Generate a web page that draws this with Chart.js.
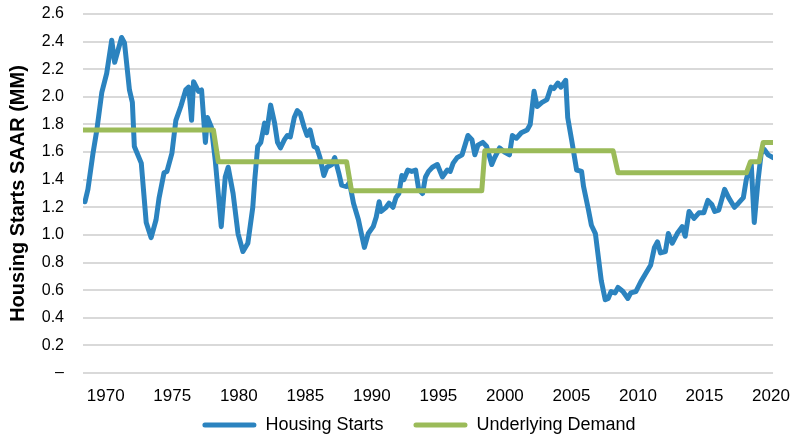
<!DOCTYPE html>
<html>
<head>
<meta charset="utf-8">
<script src="https://cdn.jsdelivr.net/npm/chart.js@4.4.1/dist/chart.umd.min.js"></script>
<style>
  html, body { margin: 0; padding: 0; background: #fff; }
  #wrap { width: 803px; height: 437px; }
</style>
</head>
<body>
<div id="wrap"><canvas id="chart" width="803" height="437"></canvas></div>
<script>
// Housing starts (millions, SAAR), vertices
const startYears = [
  1968.44, 1968.66, 1969.04, 1969.33, 1969.70, 1970.07, 1970.45, 1970.67, 1971.19, 1971.41,
  1971.78, 1972.00, 1972.15, 1972.67, 1973.04, 1973.41, 1973.78, 1974.01, 1974.38, 1974.60,
  1974.97, 1975.27, 1975.64, 1976.01, 1976.23, 1976.45, 1976.60, 1976.97, 1977.20, 1977.49,
  1977.64, 1977.94, 1978.23, 1978.68, 1978.98, 1979.20, 1979.57, 1979.94, 1980.31, 1980.68,
  1981.05, 1981.20,
  1981.42, 1981.65, 1981.94, 1982.09, 1982.39, 1982.69, 1982.91, 1983.13, 1983.43, 1983.65,
  1983.87, 1984.17, 1984.39, 1984.61, 1984.91, 1985.13, 1985.36, 1985.65, 1985.87, 1986.10,
  1986.39, 1986.62, 1986.99, 1987.21, 1987.51, 1987.73, 1988.10, 1988.32, 1988.62, 1988.99,
  1989.21, 1989.44, 1989.73, 1990.10, 1990.33, 1990.55, 1990.70, 1991.07, 1991.29, 1991.59,
  1991.81, 1992.03, 1992.25, 1992.40, 1992.70, 1993.00, 1993.29, 1993.52, 1993.81,
  1994.03, 1994.26, 1994.55, 1994.92, 1995.30, 1995.67, 1995.89, 1996.11, 1996.41, 1996.78,
  1997.22, 1997.52, 1997.74, 1997.97, 1998.34, 1998.63, 1999.01, 1999.23, 1999.60, 1999.97,
  2000.34, 2000.56, 2000.86, 2001.23, 2001.67, 2001.90, 2002.19, 2002.42, 2002.79, 2003.16,
  2003.46, 2003.68, 2003.98, 2004.20, 2004.57, 2004.72, 2005.01, 2005.39, 2005.76, 2005.91,
  2006.28, 2006.50, 2006.80, 2007.02, 2007.24, 2007.54, 2007.76, 2007.98, 2008.28, 2008.50,
  2008.87, 2009.24, 2009.46, 2009.84, 2010.21, 2010.58, 2010.95, 2011.24, 2011.47, 2011.69,
  2012.06, 2012.28, 2012.58, 2012.95, 2013.32, 2013.55, 2013.84, 2014.21, 2014.58, 2014.95,
  2015.25, 2015.55, 2015.77, 2016.07, 2016.51, 2016.81, 2017.25, 2017.55, 2017.92, 2018.14,
  2018.37, 2018.51, 2018.74, 2019.03, 2019.26, 2019.48, 2019.78, 2020.15,
];
const starts = [
  1.24, 1.33, 1.59, 1.76, 2.03, 2.17, 2.41, 2.25, 2.43, 2.39,
  2.05, 1.96, 1.64, 1.52, 1.09, 0.98, 1.11, 1.27, 1.45, 1.46,
  1.59, 1.83, 1.93, 2.05, 2.07, 1.83, 2.11, 2.04, 2.05, 1.67,
  1.85, 1.78, 1.54, 1.06, 1.42, 1.49, 1.30, 1.01, 0.88, 0.94,
  1.20, 1.40,
  1.64, 1.67, 1.81, 1.74, 1.94, 1.81, 1.67, 1.63, 1.69, 1.72,
  1.71, 1.85, 1.90, 1.88, 1.78, 1.72, 1.76, 1.64, 1.63, 1.56,
  1.43, 1.49, 1.51, 1.56, 1.45, 1.36, 1.35, 1.38, 1.23, 1.11,
  1.01, 0.91, 1.01, 1.06, 1.13, 1.24, 1.17, 1.20, 1.23, 1.20,
  1.27, 1.30, 1.43, 1.40, 1.47, 1.46, 1.47, 1.33, 1.30,
  1.42, 1.46, 1.49, 1.51, 1.42, 1.47, 1.46, 1.52, 1.56, 1.58,
  1.72, 1.69, 1.58, 1.65, 1.67, 1.64, 1.51, 1.56, 1.63, 1.60,
  1.58, 1.72, 1.70, 1.74, 1.76, 1.80, 2.04, 1.93, 1.96, 1.98,
  2.07, 2.06, 2.10, 2.07, 2.12, 1.85, 1.69, 1.47, 1.46, 1.35,
  1.18, 1.07, 1.01, 0.84, 0.67, 0.53, 0.54, 0.59, 0.58, 0.62,
  0.59, 0.54, 0.58, 0.59, 0.66, 0.72, 0.78, 0.91, 0.95, 0.87,
  0.88, 1.01, 0.94, 1.01, 1.06, 0.99, 1.17, 1.12, 1.16, 1.16,
  1.25, 1.22, 1.17, 1.18, 1.33, 1.27, 1.20, 1.23, 1.27, 1.40,
  1.48, 1.52, 1.09, 1.40, 1.59, 1.62, 1.58, 1.56,
];

// Underlying demand: flat levels with short ramps between them
const demandYears = [1968.29, 1978.09, 1978.46, 1988.10, 1988.47, 1998.26, 1998.49, 2008.13, 2008.50, 2018.15, 2018.45, 2019.11, 2019.41, 2020.15];
const demand = [1.76, 1.76, 1.53, 1.53, 1.32, 1.32, 1.61, 1.61, 1.45, 1.45, 1.53, 1.53, 1.67, 1.67];

const xTickYears = [1970, 1975, 1980, 1985, 1990, 1995, 2000, 2005, 2010, 2015, 2020];
const yMin = 0;
const yMax = 2.6;
const yStep = 0.2;

const BLUE = "#2b83bf";
const GREEN = "#9bbb59";
const GRID = "#d9d9d9";
const FONT = "Arial, 'Liberation Sans', sans-serif";

const toPoints = (xs, ys) => xs.map((x, i) => ({ x, y: ys[i] }));

// pull the legend row up and slide it right, where the reference has it
const legendNudge = {
  id: "legendNudge",
  afterLayout(chart) {
    const lg = chart.legend;
    lg.top -= 20;
    lg.bottom -= 20;
    lg.left += 28;
    lg.right += 28;
  },
};

const baseLabels = Chart.defaults.plugins.legend.labels.generateLabels;

new Chart(document.getElementById("chart").getContext("2d"), {
  type: "line",
  data: {
    datasets: [
      {
        label: "Housing Starts",
        data: toPoints(startYears, starts),
        borderColor: BLUE,
        backgroundColor: BLUE,
        borderWidth: 5,
        pointRadius: 0,
        tension: 0,
        borderJoinStyle: "round",
        borderCapStyle: "round",
        order: 1,
      },
      {
        label: "Underlying Demand",
        data: toPoints(demandYears, demand),
        borderColor: GREEN,
        backgroundColor: GREEN,
        borderWidth: 5,
        pointRadius: 0,
        tension: 0,
        borderJoinStyle: "round",
        borderCapStyle: "round",
        order: 0,
      },
    ],
  },
  plugins: [legendNudge],
  options: {
    responsive: false,
    animation: false,
    parsing: false,
    layout: { padding: { top: 14, right: 21, left: 0, bottom: -27 } },
    plugins: {
      tooltip: { enabled: false },
      legend: {
        position: "bottom",
        labels: {
          color: "#000",
          font: { family: FONT, size: 18 },
          boxWidth: 54,
          boxHeight: 5,
          padding: 30,
          useBorderRadius: true,
          borderRadius: 2.5,
          sort: (a, b) => a.datasetIndex - b.datasetIndex,
          generateLabels: (chart) => baseLabels(chart).map((item) => ({ ...item, lineWidth: 0 })),
        },
      },
    },
    scales: {
      x: {
        type: "linear",
        min: 1968.29,
        max: 2020.15,
        grid: { display: false, drawTicks: false },
        border: { display: false },
        afterBuildTicks: (scale) => {
          scale.ticks = xTickYears.map((value) => ({ value }));
        },
        afterFit: (scale) => {
          scale.height = 33;
        },
        ticks: {
          autoSkip: false,
          maxRotation: 0,
          padding: 13,
          color: "#000",
          font: { family: FONT, size: 17 },
          callback: (v) => String(v),
        },
      },
      y: {
        min: yMin,
        max: yMax,
        grid: { color: GRID, lineWidth: 2, drawTicks: false },
        border: { display: false },
        afterFit: (scale) => {
          scale.width = 83;
          scale.paddingTop = 0;
          scale.paddingBottom = 0;
        },
        title: {
          display: true,
          text: "Housing Starts SAAR (MM)",
          color: "#000",
          font: { family: FONT, size: 20, weight: "bold" },
          padding: { top: 6, bottom: 0 },
        },
        ticks: {
          stepSize: yStep,
          padding: 19,
          color: "#000",
          font: { family: FONT, size: 16 },
          callback: (v) => (Math.abs(v) < 1e-9 ? "–" : Number(v).toFixed(1)),
        },
      },
    },
  },
});
</script>
</body>
</html>
